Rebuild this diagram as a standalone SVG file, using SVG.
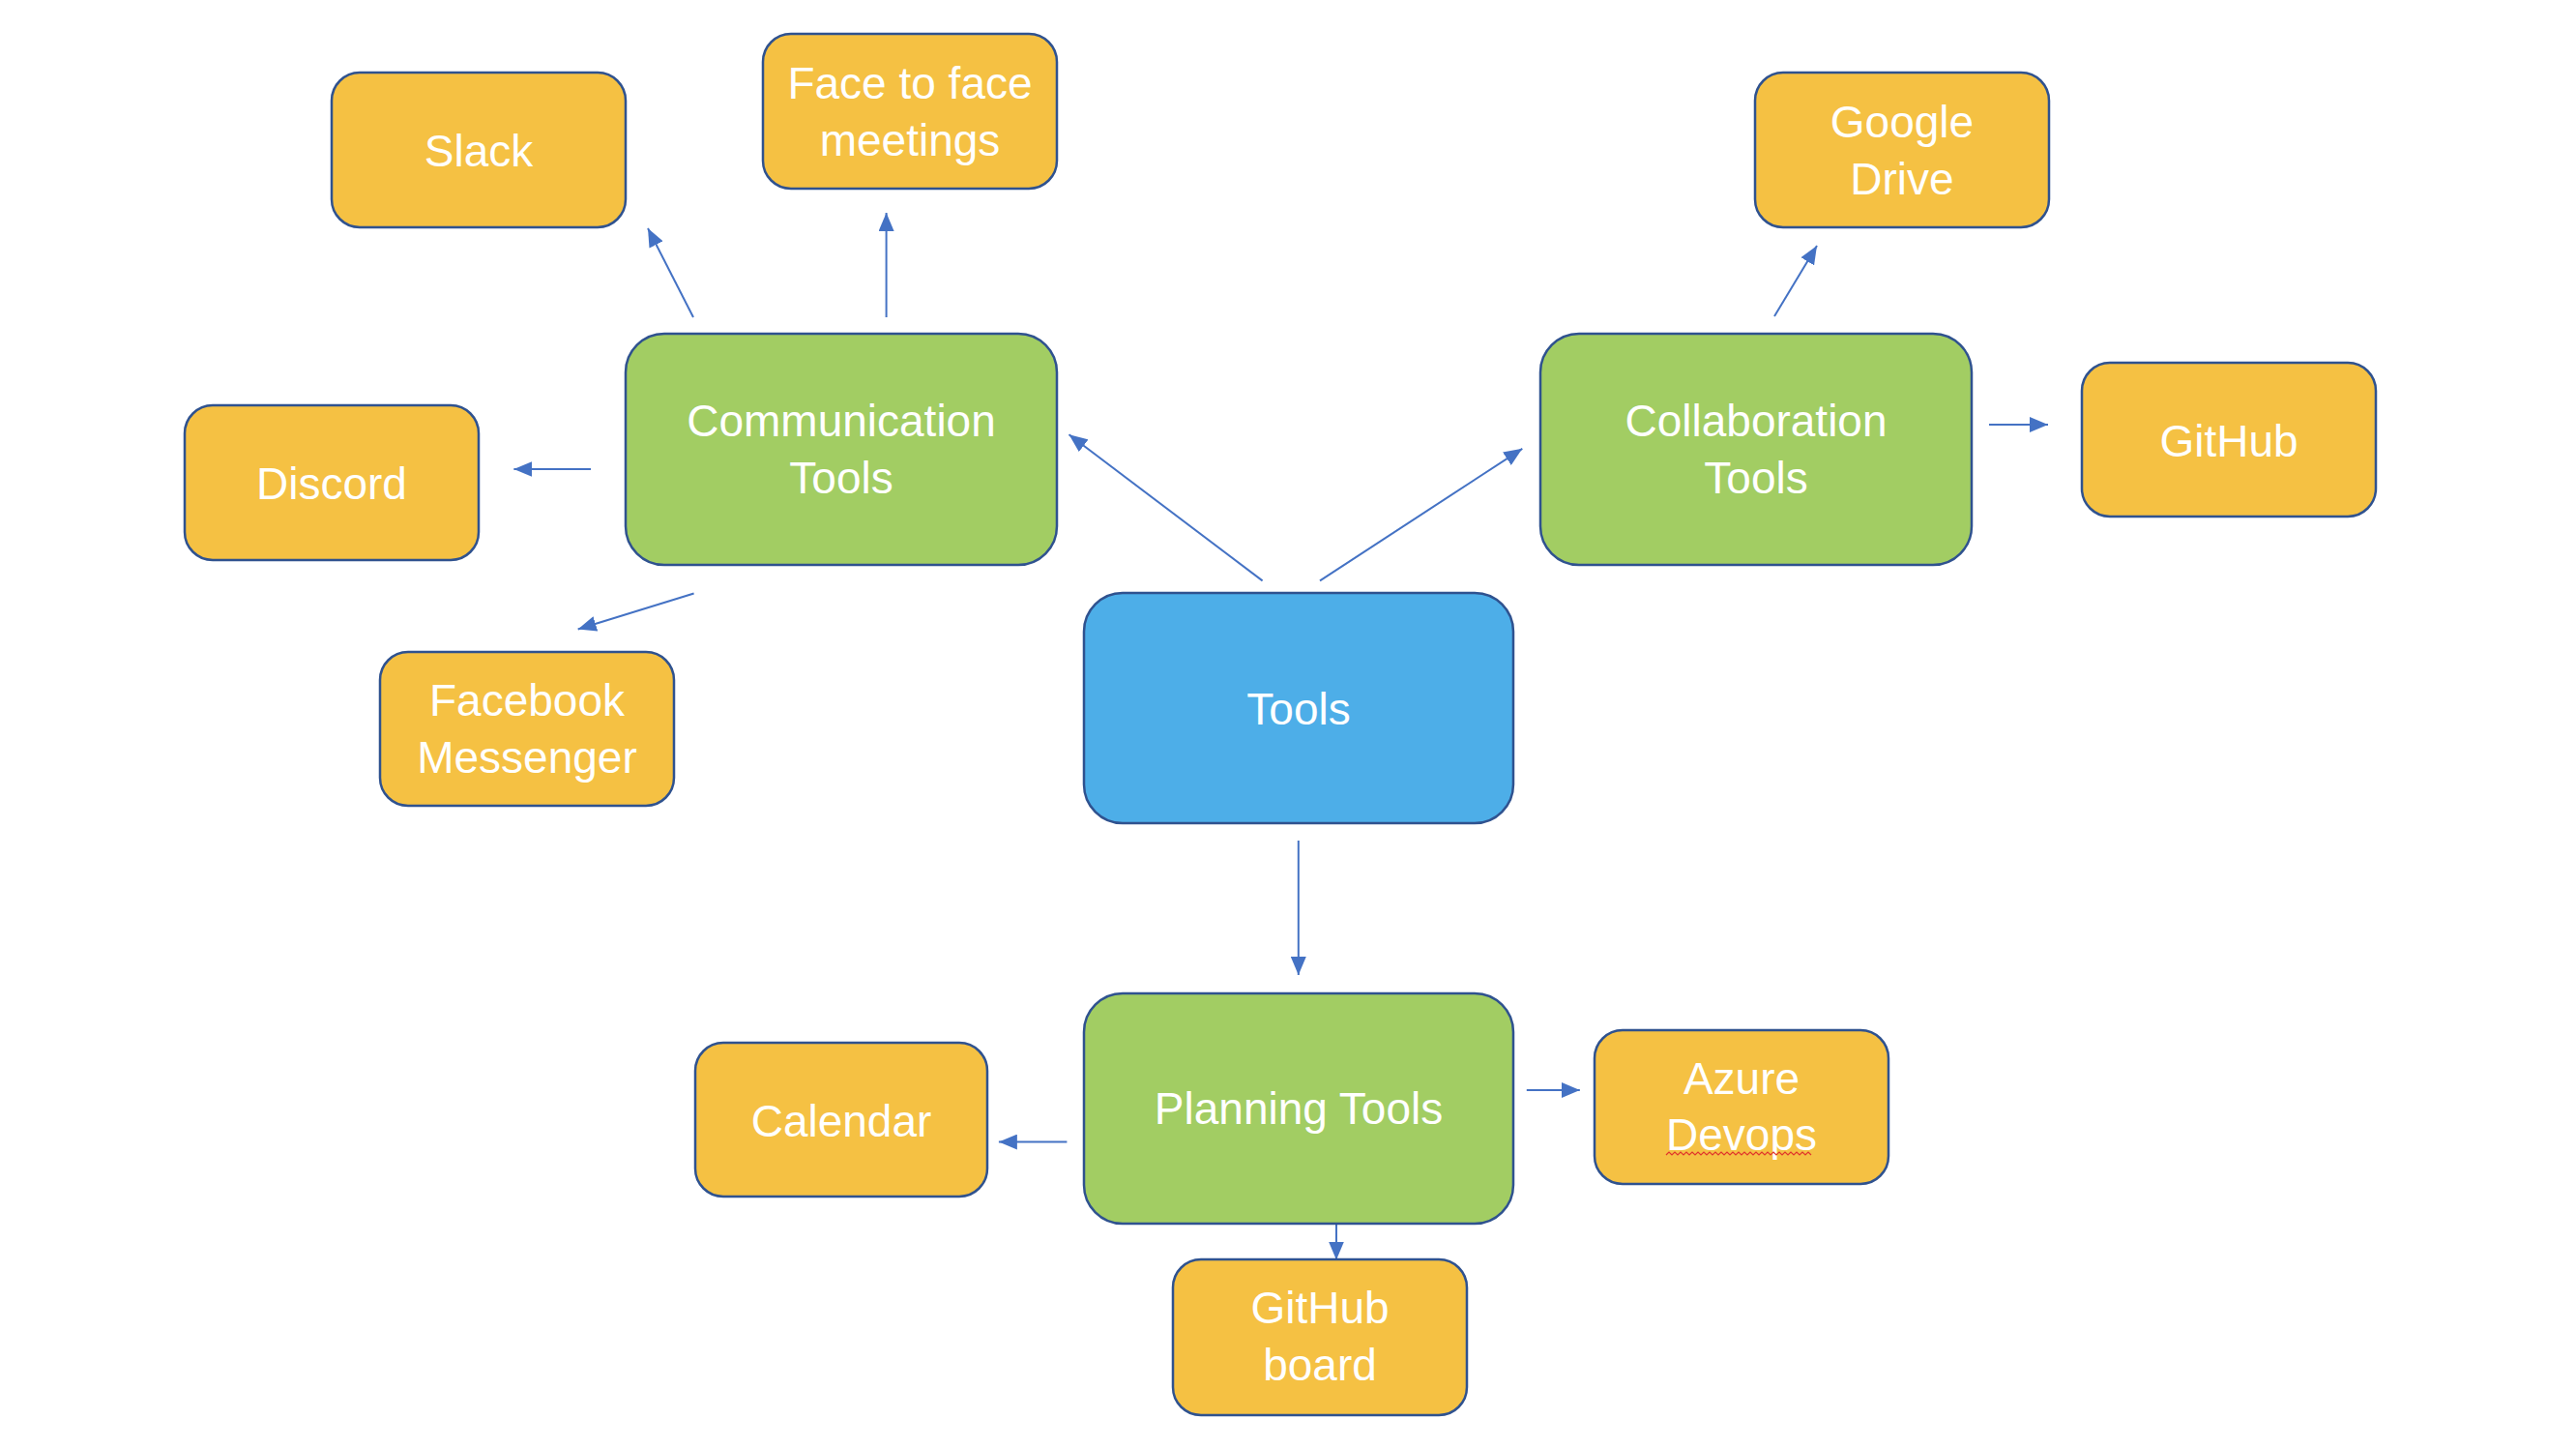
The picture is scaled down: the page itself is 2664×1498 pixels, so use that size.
<svg xmlns="http://www.w3.org/2000/svg" width="2664" height="1498" viewBox="0 0 2664 1498">
<style>
.box{stroke:#2F528F;stroke-width:2.5}
.leaf{fill:#F5C143}
.mid{fill:#A2CD63}
.root{fill:#4DAEE8}
.lbl{font-family:"Liberation Sans",Arial,sans-serif;font-size:46px;fill:#FFFFFF;text-anchor:middle}
.conn{stroke:#4472C4;stroke-width:2;fill:none;marker-end:url(#ah)}
</style>
<defs>
<marker id="ah" markerUnits="userSpaceOnUse" markerWidth="20" markerHeight="16" viewBox="0 0 20 16" refX="19" refY="8" orient="auto">
<path d="M0,0 L19,8 L0,16 Z" fill="#4472C4"/>
</marker>
</defs>
<rect width="2664" height="1498" fill="#FFFFFF"/>
<g id="connectors">
<line class="conn" x1="1305.6" y1="600.4" x2="1105.5" y2="449.3"/>
<line class="conn" x1="1365" y1="600.4" x2="1574.3" y2="463.8"/>
<line class="conn" x1="1342.8" y1="869" x2="1342.8" y2="1008"/>
<line class="conn" x1="717" y1="328" x2="670" y2="236"/>
<line class="conn" x1="916.6" y1="328" x2="916.6" y2="220"/>
<line class="conn" x1="611" y1="485" x2="531.4" y2="485"/>
<line class="conn" x1="717.6" y1="613.5" x2="597.7" y2="650.5"/>
<line class="conn" x1="1835" y1="327" x2="1879" y2="254"/>
<line class="conn" x1="2057" y1="439" x2="2118" y2="439"/>
<line class="conn" x1="1103.4" y1="1180.6" x2="1032.9" y2="1180.6"/>
<line class="conn" x1="1578.8" y1="1127" x2="1633.8" y2="1127"/>
<line class="conn" x1="1382" y1="1264.5" x2="1382" y2="1302.5"/>
</g>
<g id="slack"><rect class="box leaf" x="343" y="75" width="304" height="160" rx="29"/><text class="lbl" x="495" y="172">Slack</text></g>
<g id="face"><rect class="box leaf" x="789" y="35" width="304" height="160" rx="29"/><text class="lbl" x="941" y="101.5">Face to face</text><text class="lbl" x="941" y="160.5">meetings</text></g>
<g id="communication"><rect class="box mid" x="647" y="345" width="446" height="239" rx="40"/><text class="lbl" x="870" y="451">Communication</text><text class="lbl" x="870" y="510">Tools</text></g>
<g id="discord"><rect class="box leaf" x="191" y="419" width="304" height="160" rx="29"/><text class="lbl" x="343" y="516">Discord</text></g>
<g id="facebook"><rect class="box leaf" x="393" y="674" width="304" height="159" rx="29"/><text class="lbl" x="545" y="740">Facebook</text><text class="lbl" x="545" y="799">Messenger</text></g>
<g id="tools"><rect class="box root" x="1121" y="613" width="444" height="238" rx="40"/><text class="lbl" x="1343" y="748.5">Tools</text></g>
<g id="drive"><rect class="box leaf" x="1815" y="75" width="304" height="160" rx="29"/><text class="lbl" x="1967" y="141.5">Google</text><text class="lbl" x="1967" y="200.5">Drive</text></g>
<g id="collaboration"><rect class="box mid" x="1593" y="345" width="446" height="239" rx="40"/><text class="lbl" x="1816" y="451">Collaboration</text><text class="lbl" x="1816" y="510">Tools</text></g>
<g id="github"><rect class="box leaf" x="2153" y="375" width="304" height="159" rx="29"/><text class="lbl" x="2305" y="471.5">GitHub</text></g>
<g id="planning"><rect class="box mid" x="1121" y="1027" width="444" height="238" rx="40"/><text class="lbl" x="1343" y="1162">Planning Tools</text></g>
<g id="calendar"><rect class="box leaf" x="719" y="1078" width="302" height="159" rx="29"/><text class="lbl" x="870" y="1175">Calendar</text></g>
<g id="azure"><rect class="box leaf" x="1649" y="1065" width="304" height="159" rx="29"/><text class="lbl" x="1801" y="1131">Azure</text><text class="lbl" x="1801" y="1189">Devops</text><path d="M1723,1194 l3,-3 l3,3 l3,-3 l3,3 l3,-3 l3,3 l3,-3 l3,3 l3,-3 l3,3 l3,-3 l3,3 l3,-3 l3,3 l3,-3 l3,3 l3,-3 l3,3 l3,-3 l3,3 l3,-3 l3,3 l3,-3 l3,3 l3,-3 l3,3 l3,-3 l3,3 l3,-3 l3,3 l3,-3 l3,3 l3,-3 l3,3 l3,-3 l3,3 l3,-3 l3,3 l3,-3 l3,3 l3,-3 l3,3 l3,-3 l3,3 l3,-3 l3,3 l3,-3 l3,3 l3,-3 l3,3" fill="none" stroke="#E0362C" stroke-width="1.2"/></g>
<g id="githubboard"><rect class="box leaf" x="1213" y="1302" width="304" height="161" rx="29"/><text class="lbl" x="1365" y="1368">GitHub</text><text class="lbl" x="1365" y="1427">board</text></g>
</svg>
